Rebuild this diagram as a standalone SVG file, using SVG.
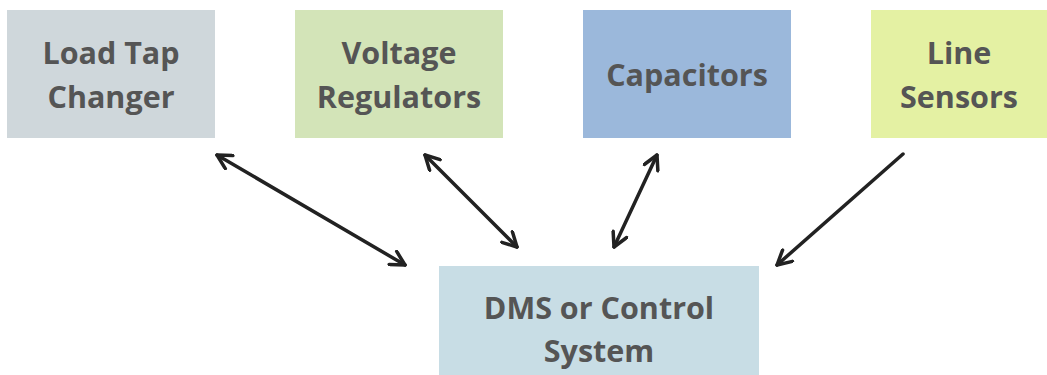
<svg xmlns="http://www.w3.org/2000/svg" width="1047" height="375" viewBox="0 0 1047 375">
<style>
.t{font-family:"Open Sans","Liberation Sans",sans-serif;font-weight:bold;font-size:30.5px;fill:#555;text-anchor:middle}
.c{stroke:#222;stroke-width:3.5;fill:none;stroke-linecap:round}
</style>
<defs>
<marker id="a" viewBox="-16 -9 18 18" refX="0" refY="0" markerWidth="18" markerHeight="18" markerUnits="userSpaceOnUse" orient="auto-start-reverse">
<path d="M-14,-7.5 L0,0 L-14,7.5" fill="none" stroke="#222" stroke-width="3.5" stroke-linecap="round" stroke-linejoin="round"/>
</marker>
</defs>
<rect width="1047" height="375" fill="#fff"/>
<g id="ltc"><rect x="7" y="10" width="208" height="128" fill="#CFD7DB"/><text class="t" x="111" y="64">Load Tap</text><text class="t" x="111" y="108">Changer</text></g>
<g id="vr"><rect x="295" y="10" width="208" height="128" fill="#D3E4B8"/><text class="t" x="399" y="64">Voltage</text><text class="t" x="399" y="108">Regulators</text></g>
<g id="cap"><rect x="583" y="10" width="208" height="128" fill="#9BB8DB"/><text class="t" x="687" y="86">Capacitors</text></g>
<g id="ls"><rect x="871" y="10" width="176" height="128" fill="#E4F1A3"/><text class="t" x="959" y="64">Line</text><text class="t" x="959" y="108">Sensors</text></g>
<g id="dms"><rect x="439" y="266" width="320" height="109" fill="#C8DDE5"/><text class="t" x="599" y="319">DMS or Control</text><text class="t" x="599" y="362">System</text></g>
<g id="connectors">
<line class="c" x1="217" y1="155" x2="405" y2="265" marker-start="url(#a)" marker-end="url(#a)"/>
<line class="c" x1="425" y1="155" x2="517" y2="247" marker-start="url(#a)" marker-end="url(#a)"/>
<line class="c" x1="657" y1="155" x2="614" y2="247" marker-start="url(#a)" marker-end="url(#a)"/>
<line class="c" x1="903" y1="154" x2="777" y2="265" marker-end="url(#a)"/>
</g>
</svg>
